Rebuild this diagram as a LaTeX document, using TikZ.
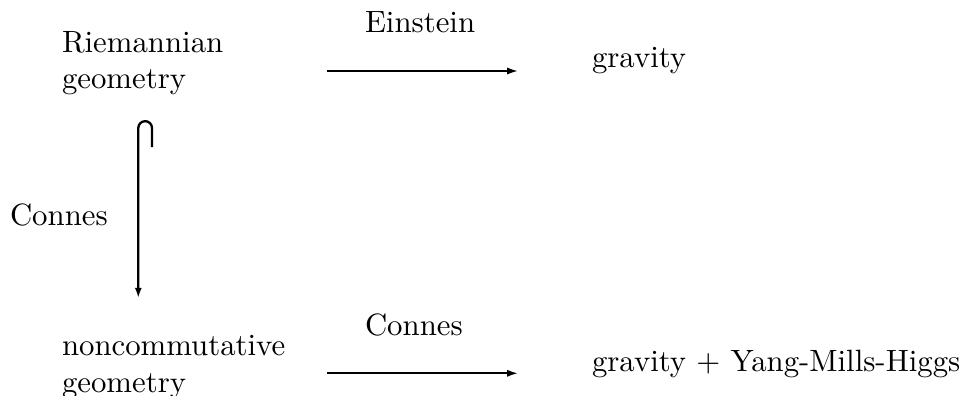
\documentclass[tikz,border=0pt]{standalone}
\usetikzlibrary{arrows.meta}
\begin{document}
\begin{tikzpicture}[x=0.3247pt,y=-0.3247pt,
  lbl/.style={anchor=base west,inner sep=0pt,outer sep=0pt,font=\fontsize{10}{12}\selectfont},
  harrow/.style={line width=0.58pt,-{Latex[length=3.5pt,width=2.3pt]}},
  varrow/.style={line width=0.75pt,-{Latex[length=3.3pt,width=2.3pt]}}]
\useasboundingbox (0,0) rectangle (968,395);
% top row
\node[lbl] (riem1) at (62,52) {Riemannian};
\node[lbl] (riem2) at (62,88) {geometry};
\node[lbl] (ein) at (365,33) {Einstein};
\node[lbl] (grav) at (592,67.5) {gravity};
\coordinate (ta) at (327,71);
\coordinate (tb) at (518,71);
\draw[harrow] (ta) -- (tb);
% left vertical
\node[lbl] (conL) at (10,225) {Connes};
\coordinate (hk) at (152,147);
\coordinate (vb) at (138.3,298);
\draw[varrow] (hk) -- (152,128) arc[start angle=0,end angle=-180,radius=6.85] -- (vb);
% bottom row
\node[lbl] (nc1) at (62,355.5) {noncommutative};
\node[lbl] (nc2) at (62,392) {geometry};
\node[lbl] (conB) at (365,335) {Connes};
\node[lbl] (gymh) at (592,371.5) {gravity + Yang-Mills-Higgs};
\coordinate (ba) at (327,373.3);
\coordinate (bb) at (518,373.3);
\draw[harrow] (ba) -- (bb);
\end{tikzpicture}
\end{document}
